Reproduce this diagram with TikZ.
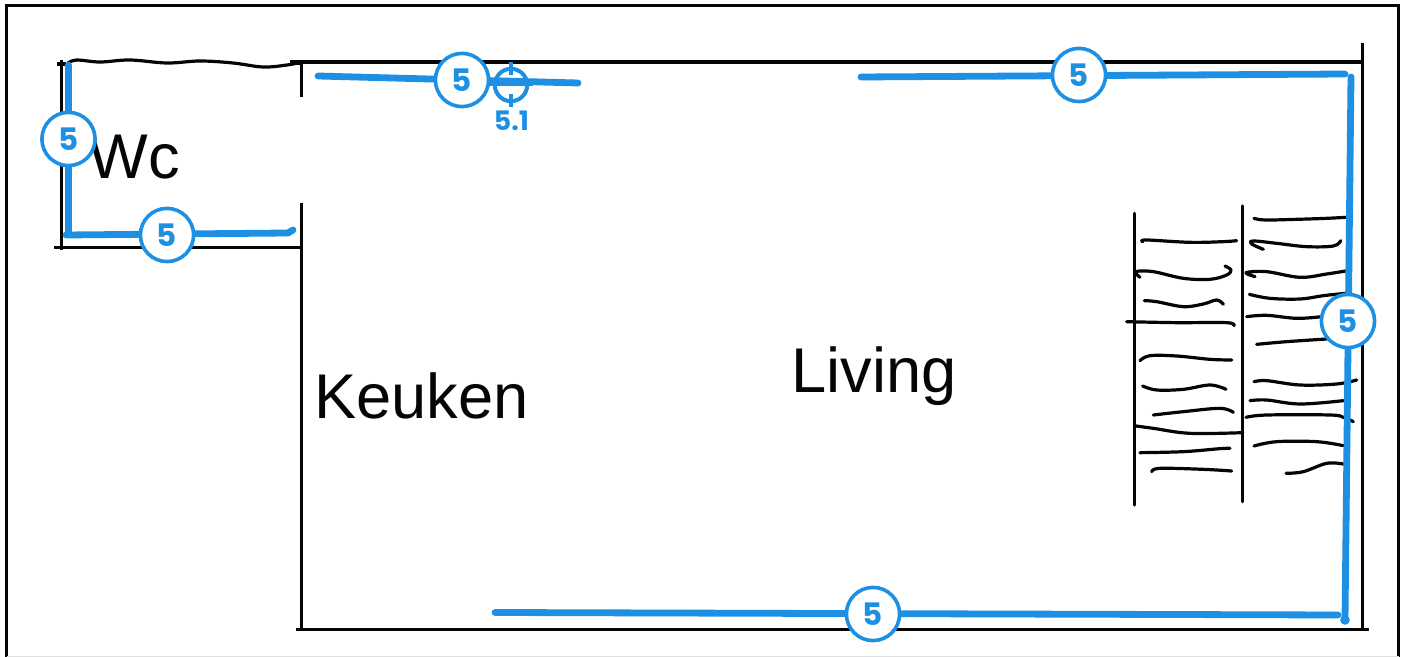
\documentclass[tikz,border=0pt]{standalone}
\usepackage{fontspec}
\setmainfont{Liberation Sans}
\newfontfamily\badgefont{Poppins}
\definecolor{planblue}{HTML}{1E90E4}
\definecolor{ink}{HTML}{050505}
\newcommand\handstroke[1]{\draw[sketchline] plot[smooth,tension=0.6] coordinates {#1};}
\tikzset{
  wall/.style={draw=ink,line width=1.7pt},
  sketchline/.style={draw=ink,line width=1.6pt,line cap=round,line join=round},
  run/.style={draw=planblue,line width=3.4pt,line cap=round,line join=round},
  badge/.style={circle,draw=planblue,line width=1.8pt,fill=white,minimum size=26.6pt,inner sep=0pt,text=planblue,font=\badgefont\bfseries\fontsize{15.5}{15.5}\selectfont},
  roomlabel/.style={anchor=base west,inner sep=0pt,text=ink,font=\fontsize{31.6}{32}\selectfont},
  target/.style={circle,draw=planblue,line width=2pt,minimum size=16.2pt,inner sep=0pt},
  tick/.style={draw=planblue,line width=2pt},
  targetlabel/.style={inner sep=0pt,text=planblue,font=\badgefont\bfseries\fontsize{13.4}{14}\selectfont}
}
\begin{document}
\begin{tikzpicture}[x=0.5pt,y=-0.5pt]
\useasboundingbox (0,0) rectangle (1405,657);
\fill[white] (0,0) rectangle (1405,657);
% frame
\draw[draw=ink,line width=1.7pt] (6.5,657) -- (6.5,5.5) -- (1398.5,5.5) -- (1398.5,657);
\draw[draw=black!12,line width=0.5pt] (6.5,656.5) -- (1398.5,656.5);
% walls
\draw[wall] (61.5,60) -- (61.5,250);
\draw[wall] (57,64) -- (66,64);
\draw[wall] (54,247.5) -- (301.5,247.5);
\draw[wall] (301.5,62) -- (301.5,97);
\draw[wall] (290,62) -- (1362.5,62);
\draw[wall] (290,63.5) -- (302,63.5);
\draw[wall] (301.5,203) -- (301.5,631);
\draw[wall] (1362.5,43) -- (1362.5,629);
\draw[wall] (296,629.5) -- (1369,629.5);
\handstroke{(68,63) (77,60) (100,62) (130,60) (167,63) (200,61) (233,63) (263,67) (287,65) (302,62)}
% shelves
\begin{scope}[shift={(1110,190)},x=0.16667pt,y=-0.16667pt]
\draw[wall,line cap=round] (73,70) -- (73,945);
\draw[wall,line cap=round] (398,48) -- (398,935);
\handstroke{(432,85)(465,90)(560,88)(650,85)(707,82)}
\handstroke{(98,155)(110,150)(240,157)(340,155)(380,152)}
\handstroke{(460,178)(425,162)(430,153)(500,160)(590,170)(670,168)(692,152)}
\handstroke{(90,262)(78,245)(130,245)(220,265)(300,268)(350,255)(363,240)(345,228)}
\handstroke{(435,260)(408,248)(470,245)(570,262)(650,252)(707,243)}
\handstroke{(418,313)(480,325)(570,327)(640,317)(707,310)}
\handstroke{(103,332)(140,335)(220,350)(280,342)(320,330)(340,343)}
\handstroke{(50,395)(200,398)(350,398)(372,407)}
\handstroke{(410,380)(470,376)(560,385)(635,380)}
\handstroke{(440,463)(530,455)(650,447)}
\handstroke{(90,512)(120,497)(200,498)(300,508)(365,510)}
\handstroke{(432,575)(470,572)(570,585)(680,582)(740,570)}
\handstroke{(98,588)(140,600)(220,598)(300,585)(348,598)}
\handstroke{(420,632)(470,630)(570,642)(700,632)}
\handstroke{(130,675)(220,665)(330,655)(370,667)}
\handstroke{(408,682)(470,675)(660,675)(700,682)(730,695)}
\handstroke{(78,708)(130,715)(240,730)(398,728)}
\handstroke{(432,768)(500,755)(620,755)(700,767)}
\handstroke{(90,788)(220,785)(330,776)(360,775)}
\handstroke{(125,845)(150,835)(280,838)(365,843)}
\handstroke{(528,850)(580,845)(650,820)(700,822)}
\end{scope}
% room names
\node[roomlabel] (wc) at (88,178.5) {Wc};
\node[roomlabel] (keuken) at (314,418.5) {Keuken};
\node[roomlabel] (living) at (791,393) {Living};
% blue runs
\coordinate (wcTop) at (68.5,65);
\coordinate (wcCorner) at (68.5,234);
\coordinate (wcLeft) at (66,235);
\coordinate (wcEnd) at (288,233);
\coordinate (wcHook) at (293,230);
\coordinate (topA) at (318,76);
\coordinate (topB) at (578,83);
\coordinate (topC) at (861,77);
\coordinate (topD) at (1345,74);
\coordinate (rightTop) at (1351,77);
\coordinate (rightEnd) at (1345,620);
\coordinate (botA) at (495,612.5);
\coordinate (botB) at (1338,615);
\draw[run] (wcTop) -- (wcCorner);
\draw[run] (wcLeft) -- (wcEnd) -- (wcHook);
\draw[run] (topA) -- (topB);
\draw[run] (topC) -- (topD);
\draw[run] (rightTop) -- (rightEnd);
\draw[run] (botA) -- (botB);
\fill[planblue] (rightEnd) circle (2.4pt);
% target
\node[target] (tgt) at (511,85) {};
\draw[tick] (511,62) -- (511,75);
\draw[tick] (511,94) -- (511,107);
\draw[tick] (490,84) -- (533,84);
\node[targetlabel] (tgtlabel) at (511.5,121) {5.1};
% badges
\node[badge] (b1) at (68.5,139) {5};
\node[badge] (b2) at (167,235) {5};
\node[badge] (b3) at (462,80) {5};
\node[badge] (b4) at (1079,75) {5};
\node[badge] (b5) at (1348,321) {5};
\node[badge] (b6) at (873,614) {5};
\end{tikzpicture}
\end{document}
